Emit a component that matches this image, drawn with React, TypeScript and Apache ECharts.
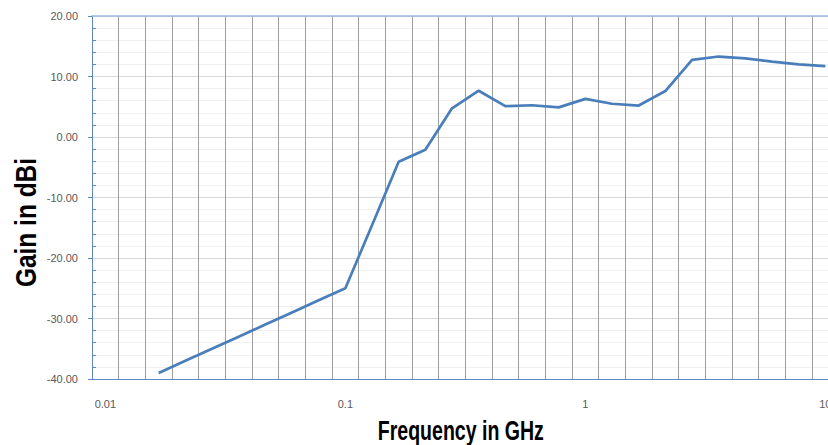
import React, { useEffect, useRef } from "react";
import * as echarts from "echarts";

const categories = [
  "0.01", "0.02", "0.03", "0.04", "0.05", "0.06", "0.07", "0.08", "0.09",
  "0.1", "0.2", "0.3", "0.4", "0.5", "0.6", "0.7", "0.8", "0.9",
  "1", "2", "3", "4", "5", "6", "7", "8", "9",
  "10",
];

const gainValues: (number | null)[] = [
  null, null, -39.0, -37.0, -35.0, -33.0, -31.0, -29.0, -27.0,
  -25.0, -14.6, -4.1, -2.1, 4.75, 7.65, 5.1, 5.25, 4.9,
  6.3, 5.5, 5.2, 7.6, 12.75, 13.3, 13.0, 12.45, 12.0,
  11.7,
];

const yMin = -40;
const yMax = 20;
const yInterval = 10;

const xTitle = "Frequency in GHz";
const yTitle = "Gain in dBi";

export default function App() {
  const ref = useRef<HTMLDivElement>(null);

  useEffect(() => {
    if (!ref.current) return;
    const chart = echarts.init(ref.current, null, { renderer: "svg" });
    const labelFont = { fontFamily: "Liberation Sans", fontSize: 11, color: "#595959" };
    const blue = "#5b87c4";
    chart.setOption({
      animation: false,
      backgroundColor: "#ffffff",
      grid: { left: 92, top: 16, width: 746.7, height: 363, containLabel: false },
      xAxis: [
        {
          type: "category",
          data: categories,
          boundaryGap: true,
          axisLine: { show: true, onZero: false, lineStyle: { color: blue, width: 1 } },
          axisTick: { show: false, interval: 0 },
          axisLabel: { ...labelFont, interval: 8, margin: 19 },
          splitLine: { show: true, interval: 0, lineStyle: { color: "#9e9e9e", width: 1 } },
        },
        {
          type: "category",
          data: categories,
          position: "top",
          boundaryGap: true,
          axisLine: { show: true, onZero: false, lineStyle: { color: "#9db9de", width: 1.5 } },
          axisTick: { show: false },
          axisLabel: { show: false },
          splitLine: { show: false },
        },
      ],
      yAxis: [
        {
          type: "value",
          min: yMin,
          max: yMax,
          interval: yInterval,
          position: "left",
          axisLine: { show: true, onZero: false, lineStyle: { color: blue, width: 1 } },
          axisTick: { show: true, length: 4, lineStyle: { color: blue } },
          axisLabel: {
            ...labelFont,
            margin: 14,
            formatter: (v: number) => v.toFixed(2),
          },
          splitLine: { show: true, lineStyle: { color: "#d9d9d9", width: 1 } },
          minorTick: { show: false, splitNumber: 5 },
          minorSplitLine: { show: true, lineStyle: { color: "#f0f0f0", width: 1 } },
        },
        {
          type: "value",
          min: yMin,
          max: yMax,
          interval: yInterval,
          position: "left",
          offset: 0,
          axisLine: { show: false, onZero: false },
          axisTick: { show: false, inside: true },
          axisLabel: { show: false },
          splitLine: { show: false },
          minorTick: { show: true, splitNumber: 5, length: 4, lineStyle: { color: blue, width: 1 } },
          minorSplitLine: { show: false },
        },
      ],
      graphic: [
        {
          type: "text",
          x: 26,
          y: 222.5,
          rotation: Math.PI / 2,
          scaleX: 0.816,
          style: {
            text: yTitle,
            font: 'bold 30px "Liberation Sans"',
            fill: "#000000",
            align: "center",
            verticalAlign: "middle",
          },
        },
        {
          type: "text",
          x: 460.8,
          y: 431,
          scaleX: 0.724,
          style: {
            text: xTitle,
            font: 'bold 27px "Liberation Sans"',
            fill: "#000000",
            align: "center",
            verticalAlign: "middle",
          },
        },
      ],
      series: [
        {
          type: "line",
          xAxisIndex: 0,
          yAxisIndex: 0,
          data: gainValues,
          showSymbol: false,
          symbol: "none",
          smooth: false,
          lineStyle: { color: "#4a7ebb", width: 2.7 },
          itemStyle: { color: "#4a7ebb" },
        },
      ],
    });
    return () => chart.dispose();
  }, []);

  return (
    <div
      style={{
        position: "fixed",
        left: 0,
        top: 0,
        width: 828,
        height: 445,
        overflow: "hidden",
        background: "#fff",
      }}
    >
      <div ref={ref} style={{ width: 850, height: 445 }} />
    </div>
  );
}
